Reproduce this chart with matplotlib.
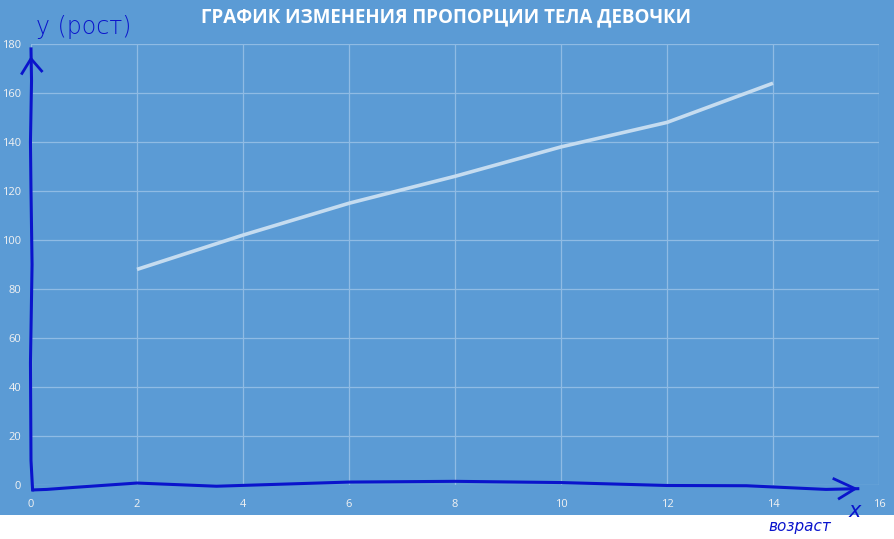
import numpy as np
import matplotlib.pyplot as plt
from matplotlib.patches import Rectangle

# data
age = [2, 4, 6, 8, 10, 12, 14]
height = [88, 102, 115, 126, 138, 148, 164]
x_ticks = [0, 2, 4, 6, 8, 10, 12, 14, 16]
y_ticks = [0, 20, 40, 60, 80, 100, 120, 140, 160, 180]
title = 'ГРАФИК ИЗМЕНЕНИЯ ПРОПОРЦИИ ТЕЛА ДЕВОЧКИ'

# hand-drawn pen strokes (approximate)
pen_y_x = [0.03, 0.0, -0.01, 0.02, 0.0, -0.01, 0.01, 0.0]
pen_y_y = [-2, 10, 50, 90, 120, 140, 165, 178]
pen_x_x = [0.05, 0.3, 0.8, 2.0, 3.5, 6.0, 8.0, 10.0, 12.0, 13.5, 15.0, 15.6]
pen_x_y = [-2, -1.8, -1, 0.8, -0.5, 1.2, 1.5, 1.0, -0.2, -0.3, -1.8, -1.5]

bg = '#5B9BD5'
grid_c = '#8FBBE4'
line_c = '#C5DCF0'
pen = '#0A14CC'

fig = plt.figure(figsize=(8.95, 5.39), dpi=100)
fig.patch.set_facecolor('white')
fig.patches.append(Rectangle((0, 24 / 539), 1, 1, transform=fig.transFigure,
                             facecolor=bg, edgecolor='none', zorder=-10))

ax = fig.add_axes([31 / 895, 54 / 539, 848 / 895, 441 / 539])
ax.set_facecolor(bg)
ax.plot(age, height, color=line_c, lw=2.6, solid_capstyle='butt', zorder=3)

ax.set_xlim(0, 16)
ax.set_ylim(0, 180)
ax.set_xticks(x_ticks)
ax.set_yticks(y_ticks)
ax.grid(True, color=grid_c, lw=0.9)
ax.set_axisbelow(True)
for s in ax.spines.values():
    s.set_visible(False)
ax.tick_params(length=0, colors='#F2F2F2', labelsize=8)
ax.tick_params(axis='y', pad=7)
ax.tick_params(axis='x', pad=10)
for lab in ax.get_xticklabels() + ax.get_yticklabels():
    lab.set_fontfamily('Open Sans')

fig.text(0.4985, 1 - 17 / 539, title, ha='center', va='center', color='white',
         fontsize=13.5, fontweight='bold', family='Open Sans')

# pen strokes
ax.plot(pen_y_x, pen_y_y, color=pen, lw=2.2, clip_on=False, zorder=5)
ax.plot(pen_x_x, pen_x_y, color=pen, lw=2.2, clip_on=False, zorder=5)
ax.plot([-0.17, 0.0, 0.2], [168, 174, 169], color=pen, lw=2.0, clip_on=False, zorder=5)
ax.plot([15.15, 15.55, 15.25], [2.5, -1.5, -5.5], color=pen, lw=2.0, clip_on=False, zorder=5)
ax.text(0.1, 182, 'y (рост)', color=pen, fontsize=17, family='DejaVu Sans',
        fontweight='light', ha='left', va='bottom', clip_on=False)
ax.text(15.55, -10.5, 'x', color=pen, fontsize=15, style='italic',
        ha='center', va='center', clip_on=False)
fig.text(800 / 895, 1 - 527 / 539, 'возраст', color=pen, fontsize=11,
         style='italic', ha='center', va='center')

fig.savefig('out.png', dpi=100, facecolor=fig.get_facecolor())
